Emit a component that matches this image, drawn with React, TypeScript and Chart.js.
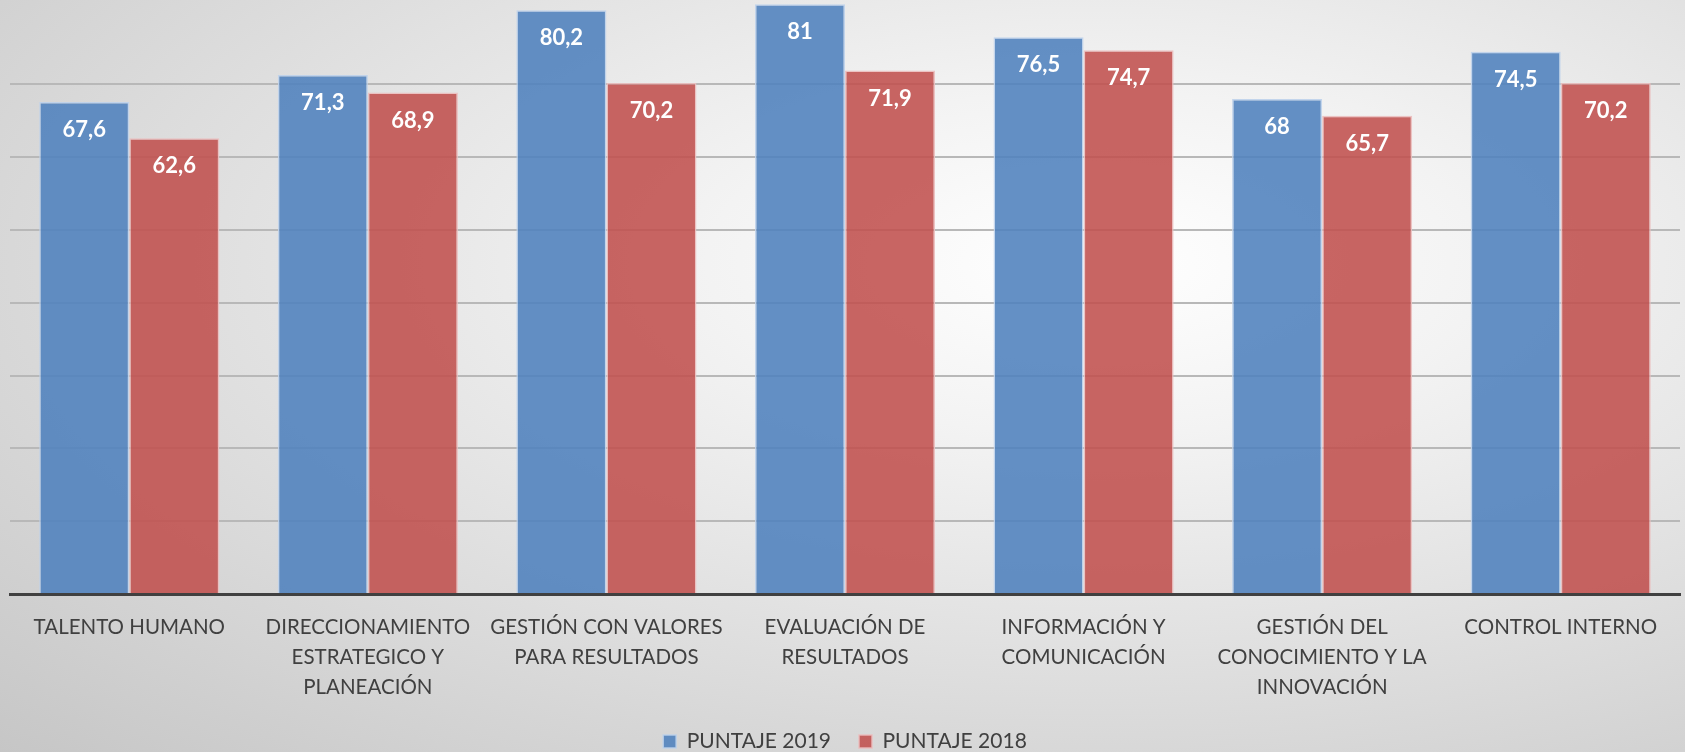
import React, { useEffect, useRef } from "react";
import { Chart, registerables } from "chart.js";

Chart.register(...registerables);

const categories: (string | string[])[] = [
  "TALENTO HUMANO",
  ["DIRECCIONAMIENTO", "ESTRATEGICO Y", "PLANEACIÓN"],
  ["GESTIÓN CON VALORES", "PARA RESULTADOS"],
  ["EVALUACIÓN DE", "RESULTADOS"],
  ["INFORMACIÓN Y", "COMUNICACIÓN"],
  ["GESTIÓN DEL", "CONOCIMIENTO Y LA", "INNOVACIÓN"],
  "CONTROL INTERNO",
];
const puntaje2019 = [67.6, 71.3, 80.2, 81, 76.5, 68, 74.5];
const puntaje2018 = [62.6, 68.9, 70.2, 71.9, 74.7, 65.7, 70.2];
const seriesNames = ["PUNTAJE 2019", "PUNTAJE 2018"];

const FONT = "Lato, 'Liberation Sans', sans-serif";

const valueLabels = {
  id: "valueLabels",
  afterDatasetsDraw(chart: any) {
    const ctx = chart.ctx;
    ctx.save();
    ctx.fillStyle = "#ffffff";
    ctx.font = `bold 22px ${FONT}`;
    ctx.textAlign = "center";
    ctx.textBaseline = "middle";
    chart.data.datasets.forEach((ds: any, i: number) => {
      const meta = chart.getDatasetMeta(i);
      meta.data.forEach((el: any, j: number) => {
        const v = ds.data[j];
        ctx.fillText(String(v).replace(".", ","), el.x, el.y + 28);
      });
    });
    ctx.restore();
  },
};

export default function App() {
  const ref = useRef<HTMLCanvasElement>(null);
  useEffect(() => {
    if (!ref.current) return;
    const chart = new Chart(ref.current, {
      type: "bar",
      data: {
        labels: categories as any,
        datasets: [
          {
            label: seriesNames[0],
            data: puntaje2019,
            backgroundColor: "rgba(79,129,189,0.88)",
            borderColor: "rgba(190,210,235,0.9)",
            borderWidth: 1.5,
          },
          {
            label: seriesNames[1],
            data: puntaje2018,
            backgroundColor: "rgba(192,80,77,0.88)",
            borderColor: "rgba(235,190,190,0.9)",
            borderWidth: 1.5,
          },
        ],
      },
      options: {
        animation: false,
        responsive: true,
        maintainAspectRatio: false,
        layout: { padding: { left: 10, right: 5, top: 0, bottom: -10 } },
        datasets: {
          bar: { categoryPercentage: 0.755, barPercentage: 1 },
        },
        plugins: {
          tooltip: { enabled: false },
          legend: {
            position: "bottom",
            labels: {
              boxWidth: 13,
              boxHeight: 13,
              padding: 28,
              color: "#404040",
              font: { family: FONT, size: 21 },
            },
          },
        },
        scales: {
          x: {
            grid: { display: false, drawTicks: false },
            border: { display: true, color: "#404040", width: 3 },
            ticks: {
              color: "#404040",
              padding: 18,
              maxRotation: 0,
              autoSkip: false,
              font: { family: FONT, size: 20.5, lineHeight: 1.47 },
            },
            afterFit: (s: any) => {
              s.height = 109;
            },
          },
          y: {
            min: 0,
            max: 81.6,
            ticks: { display: false, stepSize: 10 },
            grid: { color: "#b8b8b8", lineWidth: 2, drawTicks: false },
            border: { display: false },
            afterBuildTicks: (s: any) => {
              s.ticks = s.ticks.filter((t: any) => t.value % 10 === 0);
            },
            afterFit: (s: any) => {
              s.width = 0;
            },
          },
        },
      },
      plugins: [valueLabels],
    });
    return () => chart.destroy();
  }, []);
  return (
    <div
      style={{
        position: "fixed",
        left: 0,
        top: 0,
        width: 1685,
        height: 752,
        background:
          "radial-gradient(ellipse farthest-corner at 65% 35%, #ffffff 0%, #f3f3f3 25%, #c6c6c6 100%)",
      }}
    >
      <canvas ref={ref} />
    </div>
  );
}
